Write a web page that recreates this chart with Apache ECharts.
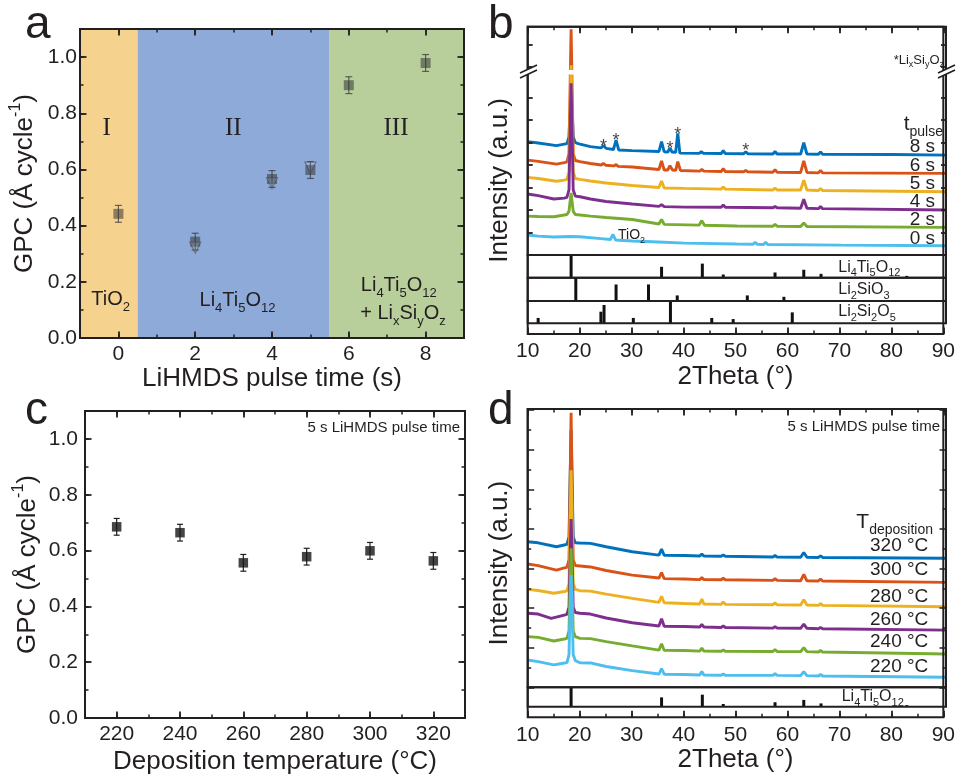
<!DOCTYPE html>
<html>
<head>
<meta charset="utf-8">
<script src="https://cdn.jsdelivr.net/npm/echarts@6/dist/echarts.min.js"></script>
<style>
  html, body { margin: 0; padding: 0; background: #fff; }
  #chart { width: 958px; height: 776px; }
</style>
</head>
<body>
<div id="chart"></div>
<script>
var FONT = 'Liberation Sans, Arial, sans-serif';
var SERIF = 'Liberation Serif, Times New Roman, serif';
var INK = '#231f20';

// ---- panel a: GPC vs LiHMDS pulse time
var pulseTime = [0, 2, 4, 5, 6, 8];
var gpcPulse = [0.442, 0.343, 0.566, 0.598, 0.900, 0.979];
var gpcPulseErr = [0.03, 0.03, 0.03, 0.03, 0.03, 0.03];
var triTime = [2, 4, 5];
var triGpc = [0.322, 0.551, 0.607];
var regionEdges = [-1, 0.5, 5.5, 9];
var regionColors = ['#f6d28f', '#8eaad9', '#b8cf9b'];

// ---- panel c: GPC vs deposition temperature
var depTemp = [220, 240, 260, 280, 300, 320];
var gpcTemp = [0.685, 0.664, 0.556, 0.578, 0.599, 0.563];
var gpcTempErr = [0.03, 0.03, 0.03, 0.03, 0.03, 0.03];

// ---- panel b: XRD vs pulse time (offset intensity, a.u.)
var xrd8s = [[10,5.04],[12,4.98],[15.5,4.86],[17,4.93],[17.5,4.95],[17.9,5.25],[18.0,5.9],[18.3,7.0],[18.6,5.9],[18.7,5.25],[19.1,5.0],[19.5,4.96],[20,4.93],[22,4.82],[24.0,4.76],[24.5,4.87],[25.0,4.74],[26.4,4.69],[26.9,5.11],[27.4,4.67],[30,4.64],[35.1,4.60],[35.6,5.04],[36.1,4.59],[36.8,4.58],[37.2,4.76],[37.6,4.58],[38.3,4.56],[38.7,5.41],[39.1,4.53],[42.8,4.52],[43.2,4.59],[43.6,4.52],[47.0,4.51],[47.4,4.64],[47.8,4.51],[51.3,4.50],[51.7,4.59],[52.1,4.50],[56.9,4.49],[57.3,4.60],[57.7,4.49],[62.2,4.49],[62.8,4.99],[63.4,4.49],[65.6,4.48],[66.0,4.58],[66.4,4.48],[80,4.47],[90,4.44]];
var xrd6s = [[10,4.22],[12,4.16],[15.5,4.04],[17,4.11],[17.5,4.14],[17.9,4.5],[18.0,6.0],[18.3,10.04],[18.6,6.0],[18.7,4.5],[19.1,4.2],[19.5,4.18],[20,4.15],[22,4.07],[24.1,4.0],[24.5,4.07],[24.9,3.99],[26.5,3.96],[26.9,4.02],[27.3,3.94],[30,3.91],[35.1,3.80],[35.6,4.18],[36.1,3.78],[36.8,3.78],[37.2,3.97],[37.7,3.78],[38.3,3.76],[38.7,4.15],[39.2,3.76],[42.9,3.73],[43.3,3.80],[43.7,3.73],[47.0,3.71],[47.4,3.84],[47.8,3.71],[51.3,3.70],[51.7,3.76],[52.1,3.70],[56.9,3.68],[57.3,3.80],[57.7,3.68],[62.2,3.67],[62.8,4.19],[63.4,3.67],[65.6,3.65],[66.0,3.76],[66.4,3.65],[90,3.63]];
var xrd5s = [[10,3.45],[12,3.40],[15.5,3.28],[17,3.33],[17.5,3.36],[17.9,3.7],[18.0,5.0],[18.3,8.44],[18.6,5.0],[18.7,3.7],[19.1,3.4],[20,3.36],[22,3.29],[25,3.20],[30,3.09],[35.1,3.0],[35.6,3.29],[36.1,2.98],[40,2.96],[47.0,2.93],[47.4,3.02],[47.8,2.93],[56.9,2.89],[57.3,2.98],[57.7,2.89],[62.2,2.89],[62.8,3.33],[63.4,2.89],[65.6,2.87],[66.0,2.96],[66.4,2.87],[90,2.81]];
var xrd4s = [[10,2.71],[12,2.64],[15,2.49],[17,2.53],[17.5,2.56],[17.9,2.9],[18.0,4.2],[18.3,7.64],[18.6,4.2],[18.7,2.9],[19.1,2.62],[20,2.59],[22,2.49],[25,2.38],[30,2.27],[35.1,2.16],[35.6,2.24],[36.1,2.15],[40,2.13],[47.0,2.12],[47.4,2.22],[47.8,2.12],[56.9,2.10],[57.3,2.16],[57.7,2.10],[62.2,2.08],[62.8,2.48],[63.4,2.08],[65.6,2.06],[66.0,2.16],[66.4,2.06],[90,2.0]];
var xrd2s = [[10,1.73],[12,1.71],[15,1.70],[17,1.78],[17.5,1.8],[17.9,1.95],[18.0,2.15],[18.3,2.76],[18.6,2.15],[18.7,1.95],[19.1,1.8],[20,1.78],[22,1.73],[25,1.67],[30,1.58],[35.1,1.38],[35.6,1.58],[36.1,1.36],[42.8,1.33],[43.3,1.53],[43.8,1.32],[50,1.29],[56.9,1.28],[57.3,1.36],[57.7,1.28],[62.2,1.27],[62.8,1.42],[63.4,1.27],[90,1.23]];
var xrd0s = [[10,0.89],[12,0.84],[15,0.80],[18,0.82],[20,0.81],[24,0.73],[25.8,0.69],[26.3,0.92],[26.8,0.67],[30,0.62],[35,0.58],[40,0.53],[50,0.49],[53.1,0.48],[53.5,0.56],[53.9,0.48],[55.1,0.47],[55.5,0.56],[55.9,0.47],[70,0.44],[90,0.41]];
var pulseNames = ['8 s', '6 s', '5 s', '4 s', '2 s', '0 s'];
var silicateStars = [[24.5,5.0],[26.9,5.26],[37.2,4.89],[38.7,5.53],[51.7,4.81]];
var bTicks = [1, 2, 3, 4, 5, 6, 7, 8.37, 9.33];

// ---- reference patterns (relative intensity, %)
var ltoRef = [[18.3,100],[35.6,48],[43.4,62],[47.4,14],[57.3,23],[62.8,35],[66.1,17],[82.5,8]];
var li2sio3Ref = [[19.2,100],[26.9,71],[33.1,71],[38.6,24],[52.0,24],[59.0,18]];
var li2si2o5Ref = [[12.0,24],[24.0,52],[24.6,82],[30.2,24],[37.3,100],[45.2,24],[49.3,19],[60.6,49]];

// ---- panel d: XRD vs deposition temperature
var xrd320 = [[10,7.35],[12,7.30],[15.5,7.10],[17,7.19],[17.5,7.22],[17.9,7.6],[18.0,9.0],[18.3,13.0],[18.6,9.0],[18.7,7.6],[19.1,7.3],[20,7.29],[22,7.27],[25,7.10],[30,6.85],[35.1,6.68],[35.6,6.98],[36.1,6.67],[40,6.66],[42.9,6.63],[43.3,6.73],[43.7,6.63],[47.0,6.62],[47.4,6.68],[47.8,6.62],[56.9,6.58],[57.3,6.66],[57.7,6.58],[62.2,6.57],[62.8,6.81],[63.4,6.57],[65.6,6.56],[66.0,6.64],[66.4,6.56],[90,6.52]];
var xrd300 = [[10,6.23],[12,6.15],[15.5,5.92],[17,6.03],[17.5,6.06],[17.9,6.45],[18.0,8.2],[18.3,13.87],[18.6,8.2],[18.7,6.45],[19.1,6.15],[20,6.13],[22,6.08],[25,5.90],[30,5.67],[35.1,5.52],[35.6,5.79],[36.1,5.49],[40,5.47],[42.9,5.44],[43.3,5.54],[43.7,5.44],[47.0,5.43],[47.4,5.52],[47.8,5.43],[56.9,5.40],[57.3,5.49],[57.7,5.40],[62.2,5.38],[62.8,5.71],[63.4,5.38],[65.6,5.37],[66.0,5.47],[66.4,5.37],[90,5.30]];
var xrd280 = [[10,4.95],[12,4.89],[15,4.75],[17,4.84],[17.5,4.87],[17.9,5.25],[18.0,6.8],[18.3,10.97],[18.6,6.8],[18.7,5.25],[19.1,4.95],[20,4.88],[22,4.86],[25,4.71],[30,4.49],[35.1,4.29],[35.6,4.60],[36.1,4.27],[40,4.23],[42.9,4.21],[43.3,4.46],[43.7,4.21],[47.0,4.19],[47.4,4.32],[47.8,4.19],[56.9,4.17],[57.3,4.26],[57.7,4.17],[62.2,4.16],[62.8,4.43],[63.4,4.16],[65.6,4.14],[66.0,4.23],[66.4,4.14],[90,4.07]];
var xrd260 = [[10,3.74],[12,3.70],[14.5,3.48],[17,3.65],[17.5,3.68],[17.9,4.05],[18.0,5.3],[18.3,8.5],[18.6,5.3],[18.7,4.05],[19.1,3.78],[20,3.74],[22,3.70],[25,3.50],[30,3.26],[35.1,3.10],[35.6,3.46],[36.1,3.08],[40,3.07],[42.9,3.05],[43.3,3.17],[43.7,3.05],[47.0,3.02],[47.4,3.10],[47.8,3.02],[56.9,2.99],[57.3,3.07],[57.7,2.99],[62.2,2.98],[62.8,3.19],[63.4,2.98],[65.6,2.96],[66.0,3.02],[66.4,2.96],[90,2.89]];
var xrd240 = [[10,2.56],[12,2.52],[15,2.34],[17,2.44],[17.5,2.47],[17.9,2.85],[18.0,4.0],[18.3,7.02],[18.6,4.0],[18.7,2.85],[19.1,2.56],[20,2.47],[22,2.46],[25,2.31],[30,2.09],[35.1,1.88],[35.6,2.20],[36.1,1.87],[40,1.86],[42.9,1.83],[43.3,1.98],[43.7,1.83],[47.0,1.82],[47.4,1.88],[47.8,1.82],[56.9,1.81],[57.3,1.91],[57.7,1.81],[62.2,1.80],[62.8,2.0],[63.4,1.80],[65.6,1.78],[66.0,1.86],[66.4,1.78],[90,1.68]];
var xrd220 = [[10,1.38],[12,1.30],[15,1.13],[16.5,1.20],[17.5,1.25],[17.9,1.65],[18.0,2.8],[18.3,5.67],[18.6,2.8],[18.7,1.65],[19.1,1.35],[20,1.24],[22,1.23],[25,1.05],[30,0.84],[35.1,0.67],[35.6,0.94],[36.1,0.66],[40,0.65],[42.9,0.62],[43.3,0.80],[43.7,0.62],[47.0,0.61],[47.4,0.67],[47.8,0.61],[56.9,0.60],[57.3,0.70],[57.7,0.60],[62.2,0.59],[62.8,0.79],[63.4,0.59],[65.6,0.57],[66.0,0.65],[66.4,0.57],[90,0.51]];
var tempNames = ['320 °C', '300 °C', '280 °C', '260 °C', '240 °C', '220 °C'];

var traceColors = ['#0072bd', '#d95319', '#edb120', '#7e2f8e', '#77ac30', '#4dbeee'];
var thetaTicks = [10, 20, 30, 40, 50, 60, 70, 80, 90];

var grids = [], xAxes = [], yAxes = [], series = [];

function addGrid(l, t, w, h) {
  grids.push({ left: l, top: t, width: w, height: h, show: true, z: 10,
    borderColor: INK, borderWidth: 2, backgroundColor: 'transparent' });
  return grids.length - 1;
}
function addX(o) { xAxes.push(o); return xAxes.length - 1; }
function addY(o) { yAxes.push(o); return yAxes.length - 1; }
function fmt1(v) { return v.toFixed(1); }
function fmt0(v) { return String(Math.round(v)); }

function majorAx(g, pos, min, max, ticks, lab) {
  var a = { type: 'value', gridIndex: g, position: pos, min: min, max: max, z: 10,
    splitLine: { show: false }, axisLine: { show: false, onZero: false },
    axisTick: { show: true, inside: true, length: 6.5, customValues: ticks, lineStyle: { color: INK, width: 1.8 } },
    axisLabel: { show: false } };
  if (lab) {
    a.axisLabel = { show: true, customValues: ticks, formatter: lab.fmt, margin: lab.margin,
      fontSize: 21, fontFamily: FONT, color: INK };
  }
  return a;
}
function minorAx(g, pos, min, max, step, len) {
  return { type: 'value', gridIndex: g, position: pos, min: min, max: max, interval: step, z: 10,
    splitLine: { show: false }, axisLine: { show: false, onZero: false }, axisLabel: { show: false },
    axisTick: { show: true, inside: true, length: len || 3.5, lineStyle: { color: INK, width: 1.5 } } };
}
function hiddenAx(g, min, max) {
  return { type: 'value', gridIndex: g, min: min, max: max, show: false, axisLine: { onZero: false } };
}
function nameStyle(size) {
  return { fontSize: size, fontFamily: FONT, color: INK,
    rich: { n: { fontSize: size, fontFamily: FONT, color: INK, lineHeight: size + 8 },
            u: { fontSize: Math.round(size * 0.62), fontFamily: FONT, color: INK, verticalAlign: 'top' } } };
}
function withName(a, name, gap) {
  a.name = name; a.nameLocation = 'middle'; a.nameGap = gap; a.nameTextStyle = nameStyle(26);
  return a;
}

function errSeries(xi, yi, data, color, cap) {
  return { type: 'custom', xAxisIndex: xi, yAxisIndex: yi, data: data, z: 3, silent: true,
    itemStyle: { color: color },
    renderItem: function (params, api) {
      var x = api.value(0), y = api.value(1), e = api.value(2);
      var p1 = api.coord([x, y + e]), p2 = api.coord([x, y - e]);
      var st = { stroke: color, lineWidth: 1.2, fill: null };
      return { type: 'group', children: [
        { type: 'line', shape: { x1: p1[0], y1: p1[1], x2: p2[0], y2: p2[1] }, style: st },
        { type: 'line', shape: { x1: p1[0] - cap, y1: p1[1], x2: p1[0] + cap, y2: p1[1] }, style: st },
        { type: 'line', shape: { x1: p2[0] - cap, y1: p2[1], x2: p2[0] + cap, y2: p2[1] }, style: st }
      ] };
    } };
}
function zip(xs, ys, es) {
  return xs.map(function (x, i) { return es ? [x, ys[i], es[i]] : [x, ys[i]]; });
}

// ======== panel a
var gA = addGrid(80, 29, 384, 309);
var axA = addX(withName(majorAx(gA, 'bottom', -1, 9, [0, 2, 4, 6, 8], { fmt: fmt0, margin: 6 }), 'LiHMDS pulse time (s)', 28));
addX(minorAx(gA, 'bottom', -1, 9, 1));
addX(majorAx(gA, 'top', -1, 9, [0, 2, 4, 6, 8]));
addX(minorAx(gA, 'top', -1, 9, 1));
var ayA = addY(withName(majorAx(gA, 'left', 0, 1.1, [0, 0.2, 0.4, 0.6, 0.8, 1.0], { fmt: fmt1, margin: 3 }), '{n|GPC (Å cycle}{u|-1}{n|)}', 38));
addY(minorAx(gA, 'left', 0, 1.1, 0.1));
addY(majorAx(gA, 'right', 0, 1.1, [0, 0.2, 0.4, 0.6, 0.8, 1.0]));
addY(minorAx(gA, 'right', 0, 1.1, 0.1));

series.push({ type: 'line', xAxisIndex: axA, yAxisIndex: ayA, data: [], z: 1, silent: true,
  markArea: { silent: true, data: regionColors.map(function (c, i) {
    return [{ xAxis: regionEdges[i], itemStyle: { color: c, opacity: 1 } }, { xAxis: regionEdges[i + 1] }];
  }) } });
series.push(errSeries(axA, ayA, zip(pulseTime, gpcPulse, gpcPulseErr), 'rgba(50,50,50,0.7)', 3.5));
series.push({ type: 'scatter', xAxisIndex: axA, yAxisIndex: ayA, data: zip(pulseTime, gpcPulse), z: 4,
  symbol: 'rect', symbolSize: 10, itemStyle: { color: 'rgba(50,50,50,0.68)' }, silent: true });
series.push({ type: 'scatter', xAxisIndex: axA, yAxisIndex: ayA, data: zip(triTime, triGpc), z: 5,
  symbol: 'triangle', symbolRotate: 180, symbolSize: 11,
  itemStyle: { color: 'rgba(255,255,255,0.12)', borderColor: 'rgba(80,80,80,0.8)', borderWidth: 1.2 }, silent: true });

// ======== panel c
var gC = addGrid(85, 411, 380, 307);
var axC = addX(withName(majorAx(gC, 'bottom', 210, 330, depTemp, { fmt: fmt0, margin: 6 }), 'Deposition temperature (°C)', 31));
addX(minorAx(gC, 'bottom', 210, 330, 10));
addX(majorAx(gC, 'top', 210, 330, depTemp));
addX(minorAx(gC, 'top', 210, 330, 10));
var ayC = addY(withName(majorAx(gC, 'left', 0, 1.1, [0, 0.2, 0.4, 0.6, 0.8, 1.0], { fmt: fmt1, margin: 7 }), '{n|GPC (Å cycle}{u|-1}{n|)}', 40));
addY(minorAx(gC, 'left', 0, 1.1, 0.1));
addY(majorAx(gC, 'right', 0, 1.1, [0, 0.2, 0.4, 0.6, 0.8, 1.0]));
addY(minorAx(gC, 'right', 0, 1.1, 0.1));
series.push(errSeries(axC, ayC, zip(depTemp, gpcTemp, gpcTempErr), INK, 3));
series.push({ type: 'scatter', xAxisIndex: axC, yAxisIndex: ayC, data: zip(depTemp, gpcTemp), z: 4,
  symbol: 'rect', symbolSize: 9.5, itemStyle: { color: '#161616' }, silent: true });

// ======== XRD panels (b and d)
function xrdPanel(top, mainH, refHs, stripH, traces, yTickFn, refs) {
  var frameH = mainH + refHs.reduce(function (s, h) { return s + h; }, 0) + stripH;
  var gF = addGrid(527.7, top, 418.3, frameH);
  addX(withName(majorAx(gF, 'bottom', 10, 90, thetaTicks, { fmt: fmt0, margin: 7 }), '2Theta (°)', 30));
  addX(minorAx(gF, 'bottom', 10, 90, 5));
  addX(majorAx(gF, 'top', 10, 90, thetaTicks));
  addX(minorAx(gF, 'top', 10, 90, 5));
  var yF = hiddenAx(gF, 0, 1); yF.show = true; yF.axisLine = { show: false, onZero: false };
  yF.axisTick = { show: false }; yF.axisLabel = { show: false }; yF.splitLine = { show: false };
  addY(withName(yF, 'Intensity (a.u.)', 15));

  var gM = addGrid(527.7, top, 418.3, mainH);
  var xM = addX(hiddenAx(gM, 10, 90));
  var yM = yTickFn(gM);
  traces.forEach(function (tr, i) {
    series.push({ type: 'line', xAxisIndex: xM, yAxisIndex: yM, data: tr, z: 2 + i * 0.01, silent: true,
      symbol: 'none', showSymbol: false, lineStyle: { color: traceColors[i], width: 2.9 },
      itemStyle: { color: traceColors[i] } });
  });
  var t = top + mainH;
  refHs.forEach(function (h, i) {
    var g = addGrid(527.7, t, 418.3, h);
    var xi = addX(hiddenAx(g, 10, 90));
    var yi = addY(hiddenAx(g, 0, 100));
    series.push({ type: 'bar', xAxisIndex: xi, yAxisIndex: yi, data: refs[i], barWidth: 3, z: 3,
      silent: true, itemStyle: { color: '#111' } });
    t += h;
  });
  return { x: xM, y: yM };
}

var bAxes = xrdPanel(26.7, 228.3, [22.7, 23.3, 22.3], 10.7,
  [xrd8s, xrd6s, xrd5s, xrd4s, xrd2s, xrd0s],
  function (g) {
    var y = addY(majorAx(g, 'left', 0, 10.15, bTicks));
    yAxes[y].axisTick.length = 5;
    var yr = addY(majorAx(g, 'right', 0, 10.15, bTicks));
    yAxes[yr].axisTick.length = 5;
    return y;
  }, [ltoRef, li2sio3Ref, li2si2o5Ref]);

series.push({ type: 'scatter', xAxisIndex: bAxes.x, yAxisIndex: bAxes.y, data: silicateStars, z: 6,
  symbolSize: 1, itemStyle: { color: 'rgba(0,0,0,0)' }, silent: true,
  label: { show: true, position: 'inside', formatter: '*', offset: [0, 4],
    fontSize: 18, fontFamily: FONT, color: '#111' } });

xrdPanel(409, 278.3, [19.4], 10.6,
  [xrd320, xrd300, xrd280, xrd260, xrd240, xrd220],
  function (g) {
    var y = addY(minorAx(g, 'left', 0, 14.06, 2, 6.5));
    addY(minorAx(g, 'left', 0, 14.06, 1, 3.5));
    addY(minorAx(g, 'right', 0, 14.06, 2, 6.5));
    addY(minorAx(g, 'right', 0, 14.06, 1, 3.5));
    return y;
  }, [ltoRef]);

// ======== annotations
function rich(size, family) {
  var s = Math.round(size * 0.66);
  return {
    n: { fontSize: size, fontFamily: family, fill: INK, lineHeight: Math.round(size * 1.45) },
    d: { fontSize: s, fontFamily: family, fill: INK, verticalAlign: 'bottom' },
    u: { fontSize: s, fontFamily: family, fill: INK, verticalAlign: 'top' }
  };
}
function txt(x, y, str, size, align, family) {
  family = family || FONT;
  return { type: 'text', x: x, y: y, z: 100, silent: true,
    style: { text: str, fontSize: size, fontFamily: family, fill: INK,
      align: align || 'left', verticalAlign: 'middle', rich: rich(size, family) } };
}
function chem(parts) {
  // alternating normal / subscript pieces
  return parts.map(function (p, i) { return i % 2 ? '{d|' + p + '}' : '{n|' + p + '}'; }).join('');
}
var LTO = chem(['Li', '4', 'Ti', '5', 'O', '12']);

var graphics = [
  txt(25, 25.5, 'a', 46), txt(488, 25.5, 'b', 46), txt(25, 411.5, 'c', 46), txt(488, 411, 'd', 46),
  txt(106.7, 128.3, 'I', 25, 'center', SERIF), txt(233.3, 128.3, 'II', 25, 'center', SERIF),
  txt(396, 128.3, 'III', 25, 'center', SERIF),
  txt(110.7, 299, chem(['TiO', '2']), 20, 'center'),
  txt(237.5, 300, LTO, 20, 'center'),
  txt(398.8, 285, LTO, 20, 'center'),
  txt(403, 313, chem(['+ Li', 'x', 'Si', 'y', 'O', 'z']), 20, 'center'),
  txt(460, 428.3, '5 s LiHMDS pulse time', 15, 'right'),
  txt(940, 427.3, '5 s LiHMDS pulse time', 15, 'right'),
  txt(944, 60, chem(['*Li', 'x', 'Si', 'y', 'O', 'z']), 13, 'right'),
  txt(943, 124, chem(['t', 'pulse']), 21, 'right'),
  txt(933, 522, chem(['T', 'deposition']), 21, 'right'),
  txt(618, 235, chem(['TiO', '2']), 14, 'left'),
  txt(838.3, 267.3, LTO, 16, 'left'),
  txt(838.3, 290, chem(['Li', '2', 'SiO', '3']), 16, 'left'),
  txt(838.3, 311.7, chem(['Li', '2', 'Si', '2', 'O', '5']), 16, 'left'),
  txt(841.7, 696.7, LTO, 16, 'left')
];
var bLabelY = [147, 166, 184, 202, 220, 239];
pulseNames.forEach(function (n, i) { graphics.push(txt(935, bLabelY[i], n, 19, 'right')); });
var dLabelY = [545.8, 570, 596.3, 619.3, 641.7, 666.3];
tempNames.forEach(function (n, i) { graphics.push(txt(928.3, dLabelY[i], n, 19, 'right')); });

// axis break marks on panel b
function breakMark(x0) {
  return [
    { type: 'polygon', z: 101, silent: true, shape: { points: [[x0, 73], [x0 + 17, 65], [x0 + 17, 70], [x0, 78]] }, style: { fill: '#fff' } },
    { type: 'line', z: 102, silent: true, shape: { x1: x0, y1: 73, x2: x0 + 17, y2: 65 }, style: { stroke: INK, lineWidth: 1.5 } },
    { type: 'line', z: 102, silent: true, shape: { x1: x0, y1: 78, x2: x0 + 17, y2: 70 }, style: { stroke: INK, lineWidth: 1.5 } }
  ];
}
graphics = graphics.concat(breakMark(520), breakMark(938));
graphics.push({ type: 'rect', z: 101, silent: true, shape: { x: 562, y: 70, width: 18, height: 4.5 }, style: { fill: '#fff' } });

var chart = echarts.init(document.getElementById('chart'));
chart.setOption({
  animation: false,
  backgroundColor: '#fff',
  textStyle: { fontFamily: FONT },
  grid: grids,
  xAxis: xAxes,
  yAxis: yAxes,
  series: series,
  graphic: graphics
});
</script>
</body>
</html>
